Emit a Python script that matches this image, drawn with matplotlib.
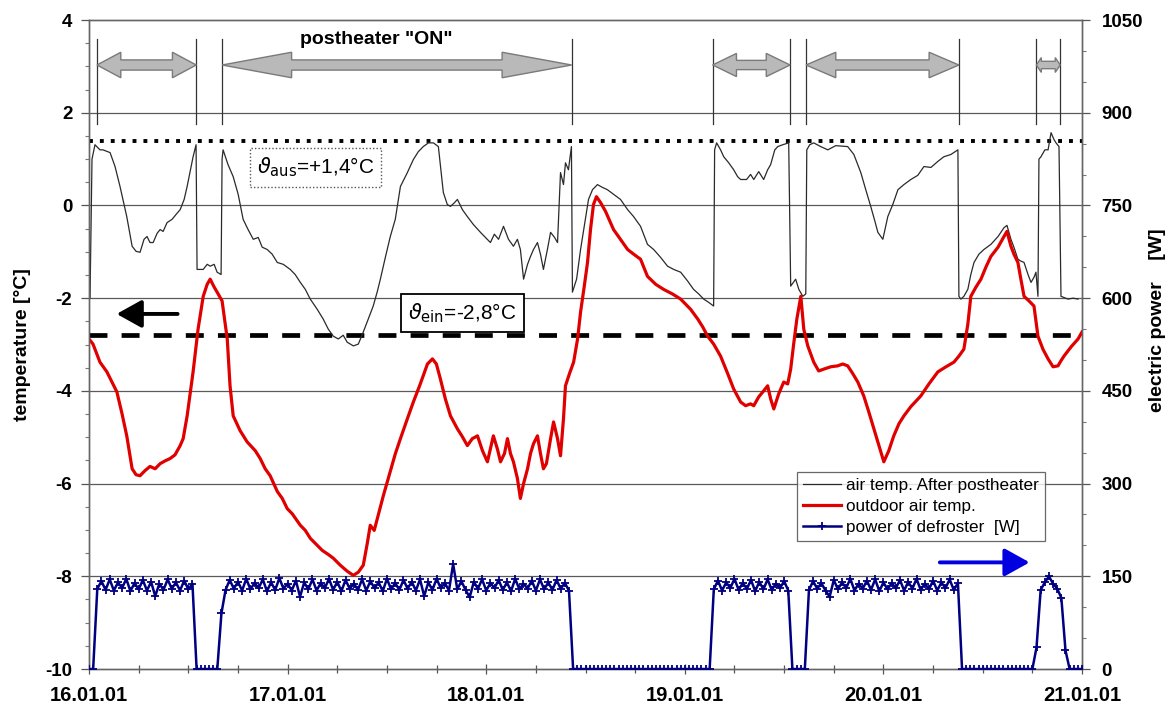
import numpy as np
import matplotlib
matplotlib.use("Agg")
import matplotlib.pyplot as plt
from matplotlib.patches import Polygon, FancyArrowPatch
from matplotlib.ticker import MultipleLocator

plt.rcParams['font.family'] = ['Liberation Sans', 'DejaVu Sans']
plt.rcParams['axes.unicode_minus'] = False
plt.rcParams['mathtext.fontset'] = 'dejavusans'

# ---------------- data ----------------
date_labels = ['16.01.01', '17.01.01', '18.01.01', '19.01.01', '20.01.01', '21.01.01']

# outdoor air temperature (days since 16.01.01 00:00, degC)
outdoor_day = [0.00, 0.02, 0.055, 0.09, 0.14, 0.166, 0.19, 0.217, 0.237, 0.257, 0.282, 0.307, 0.333,
               0.358, 0.383, 0.408, 0.433, 0.459, 0.474, 0.494, 0.524, 0.549, 0.575, 0.595, 0.61, 0.63,
               0.645, 0.67, 0.696, 0.71, 0.726, 0.761, 0.796, 0.837, 0.862, 0.887, 0.912, 0.948, 0.973,
               0.998, 1.023, 1.064, 1.089, 1.114, 1.149, 1.174, 1.205, 1.23, 1.265, 1.30, 1.331, 1.356,
               1.381, 1.401, 1.416, 1.436, 1.452, 1.482, 1.517, 1.542, 1.568, 1.603, 1.633, 1.668, 1.704,
               1.729, 1.749, 1.769, 1.794, 1.82, 1.855, 1.88, 1.905, 1.93, 1.956, 1.981, 2.006, 2.021,
               2.036, 2.056, 2.072, 2.092, 2.107, 2.122, 2.137, 2.157, 2.172, 2.188, 2.208, 2.223, 2.238,
               2.258, 2.273, 2.288, 2.303, 2.324, 2.339, 2.359, 2.374, 2.389, 2.399, 2.419, 2.44, 2.46,
               2.475, 2.495, 2.51, 2.525, 2.54, 2.555, 2.576, 2.601, 2.641, 2.676, 2.712, 2.742, 2.777,
               2.812, 2.853, 2.893, 2.938, 2.979, 3.029, 3.065, 3.09, 3.115, 3.145, 3.18, 3.216, 3.246,
               3.281, 3.306, 3.331, 3.347, 3.372, 3.397, 3.417, 3.432, 3.448, 3.473, 3.498, 3.518, 3.533,
               3.548, 3.564, 3.584, 3.599, 3.619, 3.649, 3.674, 3.70, 3.735, 3.77, 3.795, 3.82, 3.846,
               3.871, 3.901, 3.926, 3.952, 3.977, 4.002, 4.027, 4.052, 4.078, 4.103, 4.138, 4.188, 4.229,
               4.274, 4.315, 4.355, 4.38, 4.405, 4.425, 4.44, 4.466, 4.491, 4.516, 4.541, 4.577, 4.607,
               4.622, 4.642, 4.657, 4.677, 4.692, 4.708, 4.733, 4.758, 4.768, 4.778, 4.803, 4.829, 4.854,
               4.879, 4.894, 4.909, 4.945, 4.98, 5.00]
outdoor_temp = [-2.88, -2.99, -3.38, -3.59, -4.02, -4.49, -4.97, -5.68, -5.81, -5.83, -5.72, -5.63, -5.68,
                -5.57, -5.51, -5.46, -5.38, -5.18, -5.03, -4.54, -3.59, -2.67, -1.96, -1.70, -1.59, -1.76,
                -1.87, -2.06, -2.88, -3.89, -4.54, -4.86, -5.10, -5.29, -5.46, -5.68, -5.83, -6.17, -6.32,
                -6.54, -6.65, -6.90, -7.01, -7.18, -7.33, -7.44, -7.53, -7.61, -7.76, -7.89, -7.98, -7.91,
                -7.76, -7.29, -6.90, -7.01, -6.75, -6.26, -5.74, -5.36, -5.03, -4.60, -4.24, -3.85, -3.42,
                -3.31, -3.42, -3.74, -4.17, -4.54, -4.82, -4.99, -5.18, -5.03, -4.97, -5.29, -5.53, -5.25,
                -4.97, -5.25, -5.53, -5.35, -5.03, -5.35, -5.53, -5.89, -6.32, -6.00, -5.68, -5.35, -5.14,
                -4.97, -5.35, -5.68, -5.57, -5.03, -4.67, -5.03, -5.40, -4.60, -3.89, -3.63, -3.38, -2.88,
                -2.30, -1.70, -1.23, -0.52, 0.02, 0.19, 0.06, -0.13, -0.52, -0.73, -0.95, -1.05, -1.16,
                -1.53, -1.70, -1.81, -1.91, -2.02, -2.24, -2.45, -2.62, -2.82, -2.99, -3.25, -3.63, -3.96,
                -4.24, -4.32, -4.28, -4.32, -4.13, -4.00, -3.89, -4.17, -4.39, -4.06, -3.81, -3.85, -3.53,
                -2.99, -2.45, -1.96, -2.67, -3.03, -3.38, -3.57, -3.53, -3.48, -3.46, -3.42, -3.46, -3.63,
                -3.81, -4.11, -4.45, -4.82, -5.18, -5.53, -5.29, -4.97, -4.71, -4.54, -4.34, -4.11, -3.85,
                -3.59, -3.48, -3.38, -3.25, -3.10, -2.56, -1.96, -1.76, -1.59, -1.33, -1.10, -0.90, -0.67,
                -0.56, -0.88, -1.05, -1.23, -1.59, -1.96, -2.06, -2.17, -2.49, -2.82, -3.10, -3.31, -3.48,
                -3.46, -3.35, -3.25, -3.05, -2.88, -2.73]

# air temperature after postheater
supply_day = [0.005, 0.015, 0.03, 0.055, 0.07, 0.106, 0.131, 0.156, 0.19, 0.217, 0.237, 0.257, 0.277, 0.292,
              0.307, 0.323, 0.343, 0.358, 0.373, 0.393, 0.418, 0.439, 0.459, 0.479, 0.494, 0.509, 0.524,
              0.539, 0.544, 0.575, 0.595, 0.61, 0.63, 0.645, 0.665, 0.67, 0.675, 0.70, 0.726, 0.751, 0.776,
              0.801, 0.827, 0.852, 0.872, 0.897, 0.922, 0.948, 0.978, 1.013, 1.038, 1.064, 1.089, 1.114,
              1.149, 1.179, 1.205, 1.23, 1.255, 1.28, 1.30, 1.331, 1.356, 1.381, 1.406, 1.431, 1.452, 1.467,
              1.492, 1.517, 1.542, 1.568, 1.603, 1.633, 1.658, 1.683, 1.709, 1.734, 1.759, 1.784, 1.804,
              1.82, 1.84, 1.855, 1.88, 1.905, 1.935, 1.971, 1.996, 2.021, 2.041, 2.062, 2.087, 2.112, 2.137,
              2.157, 2.172, 2.188, 2.208, 2.223, 2.238, 2.258, 2.273, 2.288, 2.308, 2.324, 2.344, 2.359,
              2.374, 2.389, 2.399, 2.414, 2.429, 2.434, 2.455, 2.475, 2.495, 2.515, 2.535, 2.56, 2.585,
              2.61, 2.641, 2.676, 2.712, 2.742, 2.777, 2.812, 2.843, 2.878, 2.913, 2.944, 2.979, 3.014,
              3.044, 3.07, 3.095, 3.12, 3.145, 3.15, 3.16, 3.18, 3.196, 3.221, 3.246, 3.266, 3.281, 3.311,
              3.331, 3.347, 3.372, 3.397, 3.417, 3.432, 3.453, 3.468, 3.493, 3.523, 3.533, 3.558, 3.574,
              3.594, 3.609, 3.614, 3.629, 3.649, 3.684, 3.72, 3.76, 3.82, 3.851, 3.886, 3.911, 3.936, 3.957,
              3.972, 3.997, 4.022, 4.047, 4.073, 4.103, 4.138, 4.173, 4.204, 4.239, 4.274, 4.304, 4.34,
              4.375, 4.38, 4.39, 4.405, 4.425, 4.44, 4.456, 4.481, 4.506, 4.541, 4.577, 4.607, 4.622, 4.642,
              4.657, 4.677, 4.692, 4.708, 4.728, 4.743, 4.758, 4.768, 4.778, 4.783, 4.793, 4.813, 4.829,
              4.844, 4.859, 4.869, 4.884, 4.894, 4.929, 4.955, 4.98]
supply_temp = [-2.00, 1.00, 1.31, 1.20, 1.20, 1.14, 0.84, 0.41, -0.24, -0.88, -0.99, -1.01, -0.73, -0.67,
               -0.80, -0.80, -0.60, -0.52, -0.56, -0.37, -0.30, -0.19, -0.09, 0.13, 0.41, 0.73, 1.05, 1.31,
               -1.38, -1.38, -1.27, -1.31, -1.27, -1.44, -1.49, 1.00, 1.20, 0.88, 0.62, 0.24, -0.30, -0.52,
               -0.73, -0.69, -0.90, -0.95, -1.05, -1.23, -1.27, -1.38, -1.49, -1.66, -1.81, -2.02, -2.24,
               -2.45, -2.67, -2.82, -2.88, -2.80, -2.95, -3.03, -2.99, -2.73, -2.45, -2.17, -1.85, -1.59,
               -1.12, -0.67, -0.30, 0.41, 0.71, 0.99, 1.16, 1.27, 1.35, 1.35, 1.27, 0.28, 0.02, -0.02, 0.06,
               0.13, -0.09, -0.24, -0.41, -0.58, -0.69, -0.80, -0.62, -0.73, -0.45, -0.73, -0.88, -0.73,
               -0.95, -1.59, -1.27, -1.10, -0.95, -0.80, -1.05, -1.38, -0.95, -0.58, -0.69, -0.80, 0.71,
               0.45, 0.92, 0.77, 1.27, -1.87, -1.59, -0.95, -0.41, 0.13, 0.34, 0.45, 0.39, 0.34, 0.24,
               0.13, -0.09, -0.24, -0.45, -0.84, -0.95, -1.12, -1.31, -1.38, -1.44, -1.63, -1.81, -1.91,
               -2.02, -2.09, -2.17, 1.20, 1.35, 1.20, 1.05, 0.92, 0.77, 0.62, 0.56, 0.56, 0.67, 0.56, 0.73,
               0.56, 0.77, 0.88, 1.20, 1.27, 1.31, 1.35, -1.74, -1.59, -1.81, -1.96, -1.91, 1.20, 1.31,
               1.35, 1.27, 1.20, 1.29, 1.27, 1.10, 0.71, 0.34, -0.02, -0.34, -0.58, -0.73, -0.24, 0.02,
               0.34, 0.45, 0.56, 0.65, 0.84, 0.82, 0.95, 1.05, 1.10, 1.20, -1.96, -2.02, -1.96, -1.81,
               -1.49, -1.23, -1.05, -0.95, -0.84, -0.67, -0.48, -0.43, -0.73, -0.90, -1.16, -1.20, -1.23,
               -1.49, -1.66, -1.55, -1.44, -1.96, 1.00, 1.05, 1.20, 1.20, 1.57, 1.42, 1.35, 1.27, -1.96,
               -2.02, -2.00, -2.02]

# power of defroster [W], sampled every 30 minutes from 16.01.01 00:00
power_sample_hours = 0.5
power_w = ([0, 0] +
           [130, 142, 128, 145, 127, 140, 131, 146, 126, 139, 129, 144, 127, 141, 118, 138, 128, 145,
            130, 140, 127, 143, 129, 138] +
           [0, 0, 0, 0, 0, 0] +
           [90,
            128, 144, 130, 141, 127, 146, 129, 139, 131, 145,
            126, 140, 128, 147, 130, 138, 127, 143, 117, 140,
            129, 145, 127, 139, 131, 146, 128, 141, 126, 144,
            130, 138, 128, 145, 127, 142, 131, 140, 126, 146,
            129, 139, 128, 144, 130, 141, 127, 145, 118, 140,
            128, 146, 131, 139, 127, 170, 129, 142, 128, 116,
            141, 130, 145, 127, 139, 131, 144, 128, 140, 126,
            146, 129, 138, 130, 143, 127, 145, 129, 140, 128,
            144, 130, 139, 127] +
           [0, 0, 0, 0, 0, 0, 0, 0, 0, 0, 0, 0, 0, 0, 0, 0, 0,
            0, 0, 0, 0, 0, 0, 0, 0, 0, 0, 0, 0, 0, 0, 0, 0, 0] +
           [129, 143, 127, 140, 131, 146, 128, 139, 130, 144, 126, 141, 129, 145, 128, 138, 131, 142, 127] +
           [0, 0, 0, 0] +
           [128, 142, 130, 139, 127, 117, 144, 129, 140, 131, 146, 127, 138, 130, 143, 128, 145, 126,
            140, 129, 139, 131, 144, 127, 141, 130, 146, 128, 138, 129, 143, 127, 140, 131, 145, 128, 139] +
           [0, 0, 0, 0, 0, 0, 0, 0, 0, 0, 0, 0, 0, 0, 0, 0, 0, 0] +
           [35, 128, 140, 150, 138, 130, 115, 30] +
           [0, 0, 0, 0])

# postheater "ON" periods (days)
heater_on_start = [0.04, 0.67, 3.14, 3.61, 4.77]
heater_on_end = [0.54, 2.43, 3.53, 4.38, 4.89]

t_out_set = 1.4   # theta_aus
t_in_set = -2.8   # theta_ein

# ---------------- figure ----------------
fig = plt.figure(figsize=(11.76, 7.13), dpi=100)
ax = fig.add_axes([0.0757, 0.0617, 0.8444, 0.9102])
ax2 = ax.twinx()

ax.set_xlim(0, 5)
ax.set_ylim(-10, 4)
ax2.set_ylim(0, 1050)

grid_c = '#5a5a5a'
for yv in range(-8, 4, 2):
    ax.axhline(yv, color=grid_c, lw=0.9, zorder=1)

# reference lines
ax.axhline(t_out_set, color='black', lw=2.8, ls=(0, (1, 1.8)), zorder=3)
ax.axhline(t_in_set, color='black', lw=3.4, ls=(0, (3.8, 3.0)), zorder=3)

# curves
l_sup, = ax.plot(supply_day, supply_temp, color='#2a2a2a', lw=0.9, zorder=4,
                 label='air temp. After postheater')
l_out, = ax.plot(outdoor_day, outdoor_temp, color='#e00000', lw=2.3, zorder=5,
                 label='outdoor air temp.')

p_days = np.arange(len(power_w)) * power_sample_hours / 24.0
l_pow, = ax2.plot(p_days, power_w, color='#000080', lw=1.8, marker='+', ms=6, mew=1.3,
                  zorder=5, label='power of defroster  [W]')

# postheater ON annotation: vertical markers + grey double arrows
head_len = [0.12, 0.35, 0.12, 0.15, 0.025]
head_h = [0.55, 0.55, 0.5, 0.55, 0.32]
shaft_h = [0.22, 0.22, 0.2, 0.22, 0.16]
arrow_y = 3.03
for s, e in zip(heater_on_start, heater_on_end):
    ax.plot([s, s], [1.75, 3.6], color='#333333', lw=0.9, zorder=4)
    ax.plot([e, e], [1.75, 3.6], color='#333333', lw=0.9, zorder=4)
for s, e, hl, hh, sh in zip(heater_on_start, heater_on_end, head_len, head_h, shaft_h):
    pts = [(s, arrow_y), (s + hl, arrow_y + hh / 2), (s + hl, arrow_y + sh / 2),
           (e - hl, arrow_y + sh / 2), (e - hl, arrow_y + hh / 2), (e, arrow_y),
           (e - hl, arrow_y - hh / 2), (e - hl, arrow_y - sh / 2), (s + hl, arrow_y - sh / 2),
           (s + hl, arrow_y - hh / 2)]
    ax.add_patch(Polygon(pts, closed=True, facecolor='#b9b9b9', edgecolor='#7a7a7a',
                         lw=1.0, zorder=4))
ax.text(1.446, 3.57, 'postheater "ON"', ha='center', va='center', fontsize=14,
        fontweight='bold', zorder=6)

# set-point labels
ax.text(1.14, 0.82, r'$\vartheta_{\mathrm{aus}}$=+1,4°C', ha='center', va='center', fontsize=15,
        zorder=6, bbox=dict(boxstyle='square,pad=0.35', facecolor='white', edgecolor='#555555',
                            ls=(0, (1, 1.5)), lw=1.0))
ax.text(1.88, -2.32, r'$\vartheta_{\mathrm{ein}}$=-2,8°C', ha='center', va='center', fontsize=15,
        zorder=6, bbox=dict(boxstyle='square,pad=0.35', facecolor='white', edgecolor='black', lw=1.3))

# axis-direction arrows
ax.add_patch(FancyArrowPatch((0.46, -2.34), (0.125, -2.34), arrowstyle='-|>,head_length=0.9,head_width=0.5',
                             mutation_scale=17, color='black', lw=2.8, zorder=6))
ax.add_patch(FancyArrowPatch((4.27, -7.70), (4.75, -7.70), arrowstyle='-|>,head_length=0.9,head_width=0.5',
                             mutation_scale=17, color='#0000e0', lw=2.8, zorder=6))

# ticks
tick_font = dict(fontsize=13.5, fontweight='bold')
ax.set_xticks(range(6))
ax.set_xticklabels(date_labels, fontsize=14.5, fontweight='bold')
ax.xaxis.set_minor_locator(MultipleLocator(0.25))
ax.set_yticks(range(-10, 5, 2))
ax.set_yticklabels([str(v) for v in range(-10, 5, 2)], **tick_font)
ax.yaxis.set_minor_locator(MultipleLocator(0.5))
ax2.set_yticks(range(0, 1051, 150))
ax2.set_yticklabels([str(v) for v in range(0, 1051, 150)], **tick_font)
ax2.yaxis.set_minor_locator(MultipleLocator(50))

ax.tick_params(axis='x', which='both', direction='inout', length=7, width=0.9, color='#555555', pad=9)
ax.tick_params(axis='x', which='minor', length=6)
ax.tick_params(axis='y', which='major', direction='out', length=6, width=0.9, color='#555555', pad=6)
ax.tick_params(axis='y', which='minor', direction='out', length=3, width=0.8, color='#777777')
ax2.tick_params(axis='y', which='major', direction='out', length=6, width=0.9, color='#555555', pad=8)
ax2.tick_params(axis='y', which='minor', direction='out', length=3, width=0.8, color='#777777')

for a in (ax, ax2):
    for sp in a.spines.values():
        sp.set_color('#666666')
        sp.set_linewidth(1.0)

ax.set_ylabel('temperature [°C]', fontsize=14, fontweight='bold')
ax.yaxis.set_label_coords(-0.058, 0.5)
ax2.set_ylabel('electric power    [W]', fontsize=14, fontweight='bold', rotation=90)
ax2.yaxis.set_label_coords(1.067, 0.538)

leg = ax2.legend(handles=[l_sup, l_out, l_pow], loc='upper left', bbox_to_anchor=(0.713, 0.3035),
                 borderaxespad=0, fontsize=12.3, frameon=True, fancybox=False, handlelength=2.2,
                 handletextpad=0.3, labelspacing=0.35, borderpad=0.35)
leg.get_frame().set_edgecolor('#444444')
leg.get_frame().set_linewidth(0.9)
leg.set_zorder(10)

fig.savefig('out.png', dpi=100)
